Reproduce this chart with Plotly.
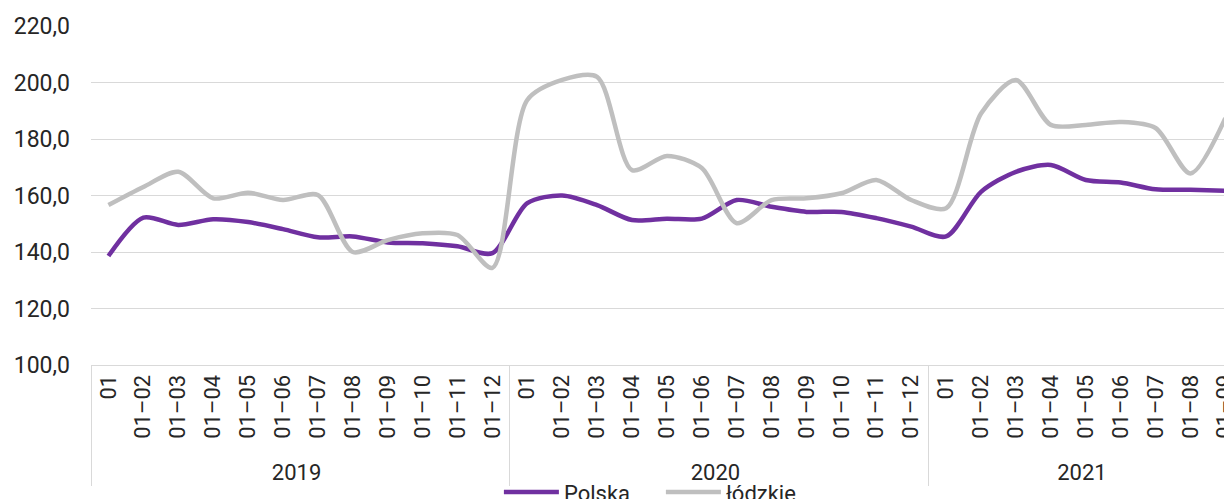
import plotly.graph_objects as go

# Dane: indeks cen (Polska vs łódzkie), miesiące narastająco
years = ['2019'] * 12 + ['2020'] * 12 + ['2021'] * 9
months = ['01'] + [f'01–{m:02d}' for m in range(2, 13)]
months_all = months + months + months[:9]

polska = [138.6, 152.2, 149.6, 151.6, 150.6, 148.1, 145.2, 145.5, 143.4, 143.1, 142.0, 139.6,
          157.3, 160.0, 156.6, 151.3, 151.8, 151.8, 158.4, 156.0, 154.2, 154.2, 152.0, 149.0,
          145.5, 161.3, 168.4, 170.8, 165.5, 164.6, 162.2, 162.0, 161.7]
lodzkie = [156.6, 163.0, 168.4, 159.0, 161.0, 158.4, 160.2, 140.0, 144.2, 146.6, 146.0, 134.4,
           193.8, 200.9, 202.0, 169.0, 174.0, 169.7, 150.2, 158.4, 159.0, 160.8, 165.5, 158.4,
           155.5, 189.0, 200.9, 185.0, 185.0, 186.0, 183.9, 167.8, 187.4]

COLORS = {'polska': '#7030A0', 'lodzkie': '#BFBFBF', 'grid': '#D9D9D9', 'text': '#262626'}
FONT = 'Roboto'

fig = go.Figure()

fig.add_trace(go.Scatter(
    x=[years, months_all], y=polska, name='Polska', mode='lines',
    line=dict(color=COLORS['polska'], width=4.5, shape='spline', smoothing=0.8)
))
fig.add_trace(go.Scatter(
    x=[years, months_all], y=lodzkie, name='łódzkie', mode='lines',
    line=dict(color=COLORS['lodzkie'], width=4.5, shape='spline', smoothing=0.8)
))

# strona ma 8px marginesu body, stąd przesunięte marginesy
fig.update_layout(
    width=1232, height=499,
    margin=dict(l=83, r=0, t=18, b=142, autoexpand=False),
    paper_bgcolor='white', plot_bgcolor='white',
    separators=', ',
    font=dict(family=FONT, color=COLORS['text']),
    showlegend=True,
    legend=dict(orientation='h', x=0.355, xanchor='left', y=-0.375, yanchor='middle',
                itemwidth=55, entrywidth=92, entrywidthmode='pixels',
                font=dict(size=22), bgcolor='rgba(0,0,0,0)')
)

fig.update_xaxes(
    type='multicategory', range=[-0.5, 32.42], automargin=False,
    tickangle=-90, tickfont=dict(size=22),
    showgrid=False, showline=True, linecolor=COLORS['grid'], linewidth=1,
    showdividers=True, dividercolor=COLORS['grid'], dividerwidth=1
)
fig.update_yaxes(
    range=[100, 220], dtick=20, tickformat='.1f', automargin=False,
    tickfont=dict(size=23), ticklabelstandoff=20,
    showgrid=True, gridcolor=COLORS['grid'], gridwidth=1,
    zeroline=False, showline=False
)

fig.write_html('out.html')
